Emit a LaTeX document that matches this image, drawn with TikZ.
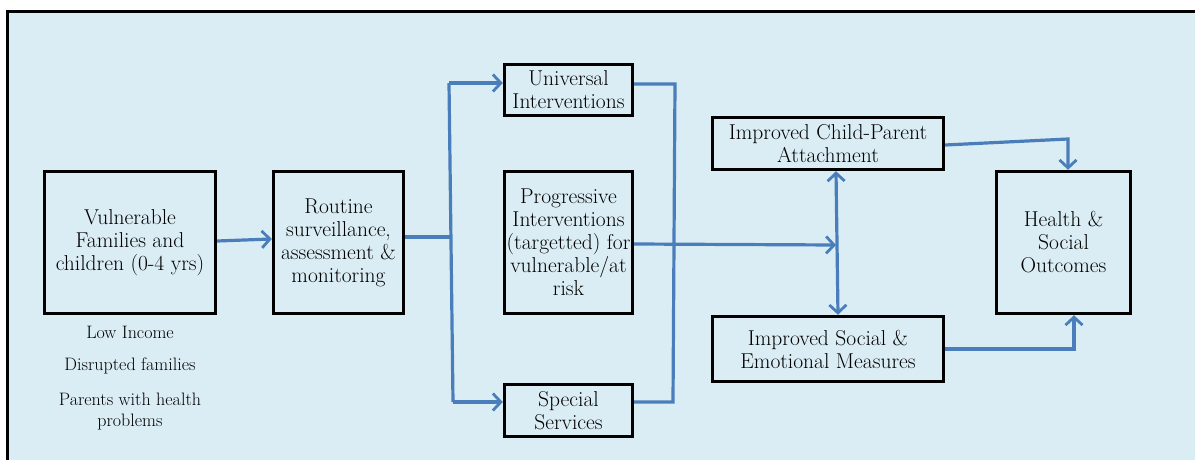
\documentclass[tikz,border=0pt]{standalone}
\usepackage{tikz}
\usetikzlibrary{positioning}
\usetikzlibrary{arrows.meta}
\usepackage{xcolor}
\definecolor{bgblue}{RGB}{219,237,244}
\definecolor{flowblue}{RGB}{74,126,187}

\tikzset{
    box/.style={draw=black, line width=3.4pt, align=center, inner sep=0pt,
        font=\fontsize{21.5}{23}\selectfont},
    note/.style={align=center, inner sep=0pt, font=\fontsize{18}{21}\selectfont},
    flow/.style={draw=flowblue, line width=3.2pt},
    tip/.style={-{Straight Barb[length=8pt,width=17pt,line width=2.8pt]}}
}

\begin{document}
\begin{tikzpicture}[x=1pt,y=-1pt]
    \useasboundingbox (0,0) rectangle (1195,460);
    % Background and frame
    \fill[bgblue] (8,13) rectangle (1195,460);
    \draw[line width=3pt] (7,460) -- (7,12) -- (1195,12);

    % Boxes
    \node[box, minimum width=171pt, minimum height=142pt] (fam) at (130,242.5)
        {Vulnerable\\Families and\\children (0-4 yrs)};
    \node[box, minimum width=130pt, minimum height=142pt] (rout) at (338.5,242.5)
        {Routine\\surveillance,\\assessment \&\\monitoring};
    \node[box, minimum width=128pt, minimum height=51pt] (univ) at (568.5,90)
        {Universal\\Interventions};
    \node[box, minimum width=128pt, minimum height=142pt] (prog) at (568.5,242.5)
        {Progressive\\Interventions\\(targetted) for\\vulnerable/at\\risk};
    \node[box, minimum width=128pt, minimum height=52pt] (spec) at (568.5,410.5)
        {Special\\Services};
    \node[box, minimum width=231pt, minimum height=52pt] (attach) at (828,143.5)
        {Improved Child-Parent\\Attachment};
    \node[box, minimum width=231pt, minimum height=65pt] (socem) at (828,349)
        {Improved Social \&\\Emotional Measures};
    \node[box, minimum width=134pt, minimum height=142pt] (health) at (1063.5,242.5)
        {Health \&\\Social\\Outcomes};

    % Notes under the first box
    \node[note] (low) at (130,332) {Low Income};
    \node[note] (disr) at (130,366) {Disrupted families};
    \node[note] (par) at (130,412) {Parents with health\\problems};

    % Junction points
    \coordinate (split) at (450,237);
    \coordinate (splittop) at (449,83);
    \coordinate (splitbot) at (453,402);
    \coordinate (mergetop) at (675,84);
    \coordinate (mergebot) at (673,402);
    \coordinate (hub) at (836,245);
    \coordinate (outtop) at (1068,139);
    \coordinate (outbot) at (1074,349);

    % Arrows
    \draw[flow, tip] (fam.east |- 0,241) -- (rout.west |- 0,239);
    \draw[flow] (rout.east |- split) -- (split);
    \draw[flow] (splittop) -- (splitbot);
    \draw[flow, tip] (splittop) -- (univ.west |- splittop);
    \draw[flow, tip] (splitbot) -- (spec.west |- splitbot);
    \draw[flow] (univ.east |- mergetop) -- (mergetop) -- (mergebot) -- (spec.east |- mergebot);
    \draw[flow, tip] (prog.east |- 0,244) -- (hub);
    \draw[flow, {Straight Barb[length=8pt,width=17pt,line width=2.8pt]}-{Straight Barb[length=8pt,width=17pt,line width=2.8pt]}]
        (hub |- attach.south) -- (838,0 |- socem.north);
    \draw[flow, tip] (attach.east |- 0,145) -- (outtop) -- (outtop |- health.north);
    \draw[flow, tip] (socem.east |- outbot) -- (outbot) -- (outbot |- health.south);
\end{tikzpicture}
\end{document}
